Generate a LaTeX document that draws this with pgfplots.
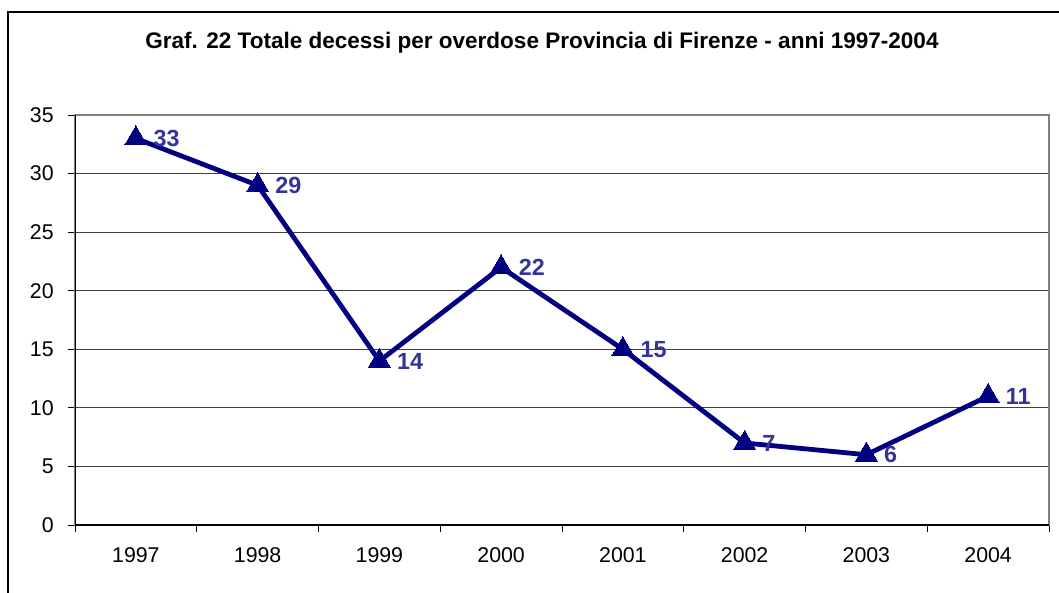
\documentclass[border=0pt]{standalone}
\usepackage{fontspec}
\setmainfont{Liberation Sans}
\usepackage{pgfplots}
\pgfplotsset{compat=1.18}
\definecolor{navyline}{HTML}{000080}
\definecolor{labelblue}{HTML}{333399}

\begin{document}
\begin{tikzpicture}[x=0.75pt,y=0.75pt]
% page = 1059 x 592 px
\path[use as bounding box] (0,0) rectangle (1059,592);
\begin{scope}
\clip (0,0) rectangle (1059,592);
\draw[line width=1.1pt] (8,580) rectangle (1070,-20);
\end{scope}
\node[font=\fontsize{16.9}{19}\selectfont\bfseries] at (542,549)
  {Graf. 22 Totale decessi per overdose Provincia di Firenze - anni 1997-2004};
\coordinate (O) at (75,67);
\begin{axis}[
    at={(O)}, anchor=south west,
    scale only axis,
    width=730.5pt, height=307.5pt,
    xmin=-0.5, xmax=7.5,
    ymin=0, ymax=35,
    ytick={0,5,...,35},
    xtick={0,...,7},
    xticklabels={1997,1998,1999,2000,2001,2002,2003,2004},
    minor xtick={-0.5,0.5,...,7.5},
    major x tick style={draw=none},
    minor x tick style={black, line width=0.6pt},
    minor tick length=5.5pt,
    major tick length=5.5pt,
    y tick style={black, line width=0.6pt},
    tick align=outside,
    xtick pos=bottom, ytick pos=left,
    ymajorgrids=true,
    grid style={black!75, line width=0.7pt},
    axis line style={black!50, line width=1.2pt},
    tick label style={font=\fontsize{16}{18}\selectfont},
    /pgf/number format/assume math mode=true,
    yticklabel style={xshift=-7pt},
    xticklabel style={yshift=-8pt},
    nodes near coords,
    every node near coord/.append style={
        anchor=west, xshift=10pt, yshift=0pt, text=labelblue,
        font=\fontsize{17.5}{20}\selectfont\bfseries},
]
\addplot[color=navyline, line width=3.6pt, mark=triangle*, mark size=9.5pt,
    mark options={solid, line width=0pt, fill=navyline}]
    coordinates {
    (0,33)(1,29)(2,14)(3,22)(4,15)(5,7)(6,6)(7,11)
    };
\draw[black, line width=1.2pt] (rel axis cs:0,0) -- (rel axis cs:0,1);
\draw[black, line width=1.2pt] (rel axis cs:0,0) -- (rel axis cs:1,0);
\end{axis}
\end{tikzpicture}
\end{document}
